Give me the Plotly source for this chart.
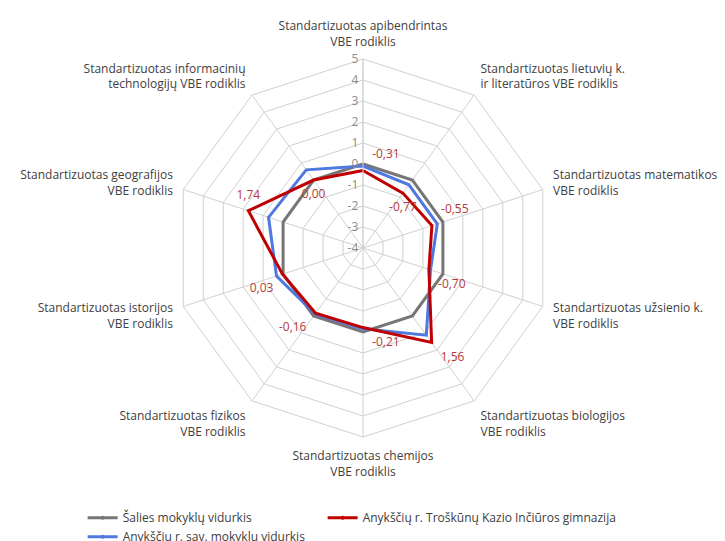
import plotly.graph_objects as go

categories = [
    "Standartizuotas apibendrintas<br>VBE rodiklis",
    "Standartizuotas lietuvių k.<br>ir literatūros VBE rodiklis",
    "Standartizuotas matematikos<br>VBE rodiklis",
    "Standartizuotas užsienio k.<br>VBE rodiklis",
    "Standartizuotas biologijos<br>VBE rodiklis",
    "Standartizuotas chemijos<br>VBE rodiklis",
    "Standartizuotas fizikos<br>VBE rodiklis",
    "Standartizuotas istorijos<br>VBE rodiklis",
    "Standartizuotas geografijos<br>VBE rodiklis",
    "Standartizuotas informacinių<br>technologijų VBE rodiklis",
]
salies = [0, 0, 0, 0, 0, 0, 0, 0, 0, 0]
savivaldybe = [-0.1, -0.28, -0.28, -0.62, 1.13, -0.15, -0.12, 0.33, 0.73, 0.6]
gimnazija = [-0.31, -0.77, -0.55, -0.70, 1.56, -0.21, -0.16, 0.03, 1.74, 0.00]
gimnazija_labels = ["-0,31", "-0,77", "-0,55", "-0,70", "1,56", "-0,21", "-0,16", "0,03", "1,74", "0,00"]
label_pos = ["top right", "bottom center", "top right", "bottom right", "bottom right",
             "bottom right", "bottom left", "bottom left", "top center", "bottom center"]
radial_ticks = [-4, -3, -2, -1, 0, 1, 2, 3, 4, 5]
radial_ticktext = ["-4", "-3", "-2", "-1", "0", "1", "2", "3", "4", "5"]

FONT = "Open Sans"
DOMAIN = dict(x=[174/725, 552/725], y=[104/541, 482/541])

def closed(v):
    return list(v) + [v[0]]

# angle (degrees) of each category on the chart, from its index
category_angles = [i * 360 / len(categories) for i in range(len(categories))]

fig = go.Figure()
fig.add_trace(go.Scatterpolar(
    r=closed(salies), theta=closed(categories), mode="lines+markers",
    name="Šalies mokyklų vidurkis", legend="legend",
    line=dict(color="#767676", width=3), marker=dict(size=4, color="#767676"),
))
fig.add_trace(go.Scatterpolar(
    r=closed(savivaldybe), theta=closed(categories), mode="lines+markers",
    name="Anykščių r. sav. mokyklų vidurkis", legend="legend",
    line=dict(color="#4f78e0", width=3), marker=dict(size=4, color="#4f78e0"),
))
fig.add_trace(go.Scatterpolar(
    r=closed(gimnazija), theta=closed(categories), mode="lines+markers",
    name="Anykščių r. Troškūnų Kazio Inčiūros gimnazija", legend="legend2",
    line=dict(color="#c00000", width=3), marker=dict(size=4, color="#c00000"),
))
# data labels on an overlaid, invisible polar with numeric angles
# (an invisible marker gives the labels their distance from the point)
fig.add_trace(go.Scatterpolar(
    r=gimnazija, theta=category_angles, mode="markers+text", subplot="polar2",
    marker=dict(size=13, color="rgba(0,0,0,0)"),
    text=gimnazija_labels, textposition=label_pos,
    textfont=dict(color="#b83a3a", size=12, family=FONT),
    showlegend=False, hoverinfo="skip",
))

fig.update_layout(
    width=725, height=541,
    margin=dict(l=0, r=0, t=0, b=0, autoexpand=False),
    paper_bgcolor="white",
    font=dict(family=FONT, size=12, color="#404040"),
    polar=dict(
        domain=DOMAIN,
        bgcolor="white",
        gridshape="linear",
        angularaxis=dict(
            rotation=90, direction="clockwise",
            linecolor="#d0d0d0", gridcolor="#d0d0d0", linewidth=1,
            ticks="outside", ticklen=8, tickcolor="rgba(0,0,0,0)",
            tickfont=dict(size=12, color="#404040", family=FONT),
        ),
        radialaxis=dict(
            range=[-4, 5], tickvals=radial_ticks, ticktext=radial_ticktext,
            angle=90, tickangle=90, side="counterclockwise",
            showline=True, linecolor="#d0d0d0", gridcolor="#d0d0d0",
            ticks="", tickfont=dict(size=12, color="#8c8c8c", family=FONT),
        ),
    ),
    polar2=dict(
        domain=DOMAIN,
        bgcolor="rgba(0,0,0,0)",
        angularaxis=dict(rotation=90, direction="clockwise", visible=False,
                         showgrid=False, showline=False, showticklabels=False, ticks=""),
        radialaxis=dict(range=[-4, 5], visible=False, showgrid=False,
                        showline=False, showticklabels=False, ticks=""),
    ),
    showlegend=True,
    legend=dict(
        orientation="v", x=0.114, xanchor="left", y=0.07, yanchor="top",
        font=dict(size=12, color="#404040", family=FONT),
        itemwidth=30, bgcolor="rgba(0,0,0,0)",
    ),
    legend2=dict(
        orientation="v", x=0.445, xanchor="left", y=0.07, yanchor="top",
        font=dict(size=12, color="#404040", family=FONT),
        itemwidth=30, bgcolor="rgba(0,0,0,0)",
    ),
)

fig.write_html("out.html", config={"displayModeBar": False},
               post_script="document.body.style.margin='0';")
